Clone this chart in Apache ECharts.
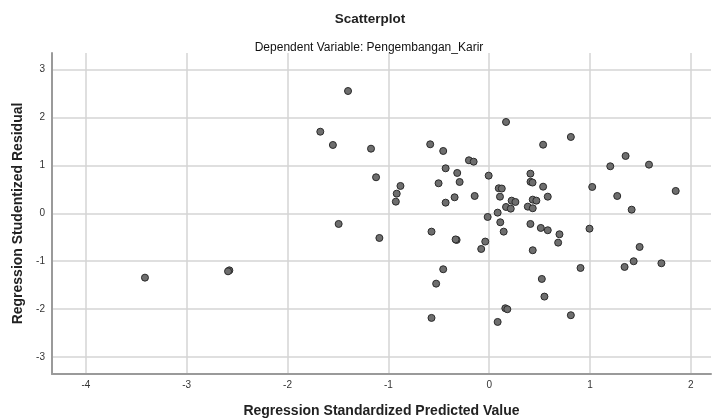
<!DOCTYPE html>
<html>
<head>
<meta charset="utf-8">
<script src="https://cdn.jsdelivr.net/npm/echarts@6/dist/echarts.min.js"></script>
<style>html,body{margin:0;padding:0;background:#fff;}#c{width:715px;height:419px;}</style>
</head>
<body>
<div id="c"></div>
<script>
const titleText = "Scatterplot";
const subtitleText = "Dependent Variable: Pengembangan_Karir";
const xName = "Regression Standardized Predicted Value";
const yName = "Regression Studentized Residual";
const xTicks = [-4, -3, -2, -1, 0, 1, 2];
const yTicks = [-3, -2, -1, 0, 1, 2, 3];
const predicted = [
  -3.414, -2.577, -2.59, -1.400, -1.675, -1.550, -1.172, -1.122, -0.880, -0.917,
  -0.926, -0.585, -0.456, -0.201, -0.154, -0.432, -0.317, -0.005, -0.502, -0.293,
  -0.144, -0.343, -0.432, -0.015, 0.084, 0.11, -1.493, -1.089, -0.572, -0.323,
  -0.333, -0.039, -0.079, -0.456, -0.526, -0.572, 0.084, 0.167, 0.535, 0.810,
  0.095, 0.125, 0.409, 0.410, 0.43, 0.535, 0.107, 0.223, 0.260, 0.432,
  0.468, 0.581, 0.167, 0.214, 0.383, 0.432, 1.022, 1.201, 1.353, 1.585,
  1.270, 1.413, 1.850, 0.144, 0.409, 0.512, 0.581, 0.697, 0.684, 0.432,
  0.995, 1.492, 1.433, 1.343, 1.708, 0.906, 0.522, 0.548, 0.160, 0.180, 0.810
];
const residual = [
  -1.342, -1.19, -1.21, 2.548, 1.700, 1.423, 1.346, 0.750, 0.569, 0.409,
  0.242, 1.437, 1.298, 1.104, 1.075, 0.937, 0.840, 0.784, 0.625, 0.652,
  0.360, 0.333, 0.221, -0.077, 0.013, -0.188, -0.223, -0.515, -0.383, -0.556,
  -0.545, -0.590, -0.744, -1.167, -1.467, -2.181, -2.265, 1.902, 1.429, 1.590,
  0.521, 0.515, 0.825, 0.656, 0.640, 0.554, 0.346, 0.263, 0.235, 0.284,
  0.263, 0.346, 0.131, 0.096, 0.138, 0.104, 0.548, 0.979, 1.194, 1.013,
  0.360, 0.075, 0.465, -0.383, -0.223, -0.306, -0.354, -0.438, -0.612, -0.771,
  -0.321, -0.702, -1.000, -1.119, -1.042, -1.140, -1.369, -1.737, -1.98, -2.00, -2.125
];

const data = predicted.map((x, i) => [x, residual[i]]);
const font = "'Liberation Sans', Arial, sans-serif";
const chart = echarts.init(document.getElementById('c'), null, {renderer: 'canvas'});
chart.setOption({
  animation: false,
  backgroundColor: '#ffffff',
  title: [
    {text: titleText, left: 365, top: 7, textAlign: 'center',
     textStyle: {fontFamily: font, fontSize: 13.5, fontWeight: 'bold', color: '#222'}},
    {text: subtitleText, left: 364, top: 37, textAlign: 'center',
     textStyle: {fontFamily: font, fontSize: 12, fontWeight: 'normal', color: '#111'}}
  ],
  grid: {left: 52, right: 4, top: 53, bottom: 45, containLabel: false, outerBoundsMode: 'none'},
  xAxis: {
    type: 'value', min: -4.336, max: 2.2,
    name: xName, nameLocation: 'middle', nameGap: 30,
    nameTextStyle: {fontFamily: font, fontSize: 14, fontWeight: 'bold', color: '#222'},
    axisLine: {show: true, onZero: false, lineStyle: {color: '#9a9a9a', width: 2}},
    axisTick: {show: false, customValues: xTicks},
    axisLabel: {customValues: xTicks, fontFamily: font, fontSize: 10, color: '#333', margin: 6},
    splitLine: {show: true, lineStyle: {color: '#d4d4d4', width: 1.5}}
  },
  yAxis: {
    type: 'value', min: -3.35, max: 3.34,
    name: yName, nameLocation: 'middle', nameGap: 25,
    nameTextStyle: {fontFamily: font, fontSize: 14, fontWeight: 'bold', color: '#222'},
    axisLine: {show: true, onZero: false, lineStyle: {color: '#9a9a9a', width: 2}},
    axisTick: {show: false, customValues: yTicks},
    axisLabel: {customValues: yTicks, fontFamily: font, fontSize: 10, color: '#333', margin: 7},
    splitLine: {show: true, lineStyle: {color: '#d4d4d4', width: 1.5}}
  },
  series: [{
    type: 'scatter',
    data: data,
    symbol: 'circle',
    symbolSize: 7,
    itemStyle: {color: '#6e6e6e', borderColor: '#2a2a2a', borderWidth: 1, opacity: 1}
  }]
});
</script>
</body>
</html>
